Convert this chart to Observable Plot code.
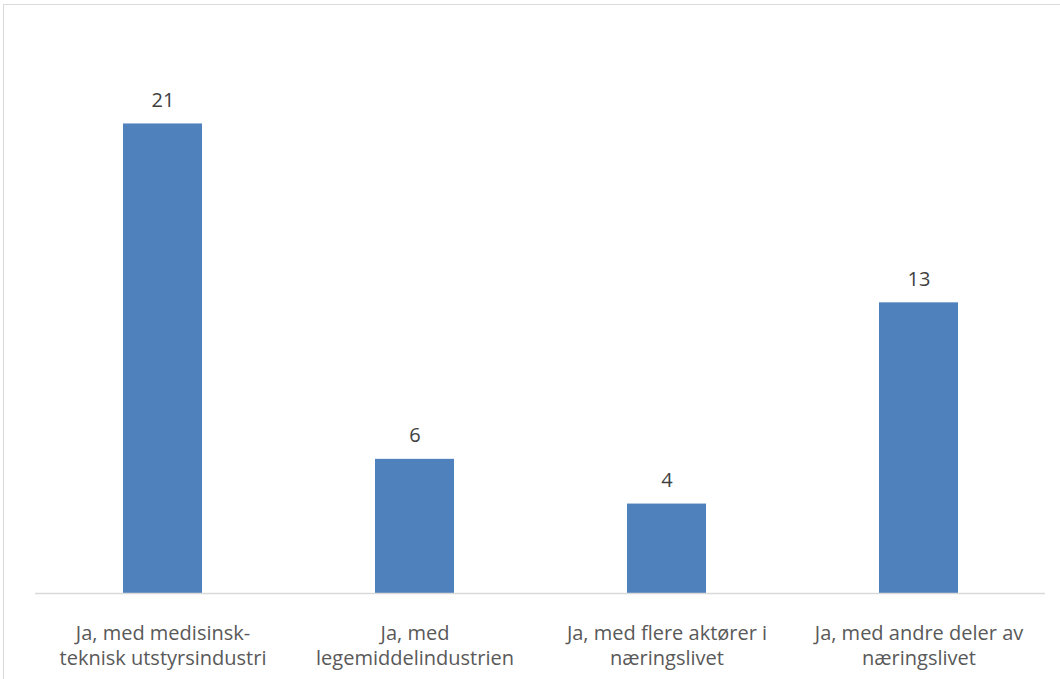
<!DOCTYPE html>
<html>
<head>
<meta charset="utf-8">
<script src="https://cdn.jsdelivr.net/npm/d3@7"></script>
<script src="https://cdn.jsdelivr.net/npm/@observablehq/plot@0.6"></script>
<style>
  html, body { margin: 0; padding: 0; background: #fff; }
  #wrap { position: relative; width: 1060px; height: 679px; overflow: hidden; }
  #border { position: absolute; left: 3px; top: 4px; right: -2px; bottom: -2px; border-left: 1px solid #d9d9d9; border-top: 1px solid #d9d9d9; pointer-events: none; }
  #chart { position: absolute; left: 0; top: 0; }
</style>
</head>
<body>
<div id="wrap"><div id="chart"></div><div id="border"></div></div>
<script>
const categories = [
  "Ja, med medisinsk-\nteknisk utstyrsindustri",
  "Ja, med\nlegemiddelindustrien",
  "Ja, med flere aktører i\nnæringslivet",
  "Ja, med andre deler av\nnæringslivet"
];
const values = [21, 6, 4, 13];

const data = categories.map((c, i) => ({category: c, value: values[i]}));

const chart = Plot.plot({
  width: 1060,
  height: 679,
  marginLeft: 35,
  marginRight: 15,
  marginTop: 34,
  marginBottom: 86,
  style: {fontFamily: "'Open Sans', sans-serif", background: "transparent"},
  x: {domain: categories, paddingInner: 0.687, paddingOuter: 0.3435, label: null},
  y: {domain: [0, 25], axis: null},
  marks: [
    Plot.barY(data, {x: "category", y: "value", fill: "#4f81bd"}),
    Plot.ruleY([0], {stroke: "#d9d9d9", strokeWidth: 1.5}),
    Plot.text(data, {x: "category", y: "value", text: d => String(d.value), lineAnchor: "bottom", dy: -17, fontSize: 20, fill: "#404040"}),
    Plot.axisX({tickSize: 0, tickPadding: 29, fontSize: 20, lineHeight: 1.25, fill: "#595959", label: null})
  ]
});
document.getElementById("chart").appendChild(chart);
</script>
</body>
</html>
